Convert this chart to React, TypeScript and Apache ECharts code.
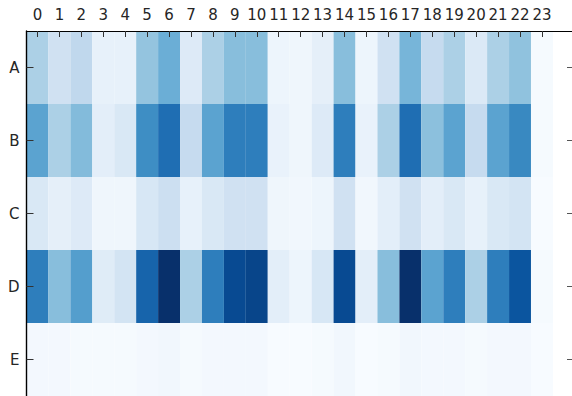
import React, { useEffect, useRef } from "react";
import * as echarts from "echarts";

const hours: number[] = Array.from({ length: 24 }, (_, i) => i);
const rowLabels: string[] = ["A", "B", "C", "D", "E"];

const rowA: number[] = [0.33, 0.2, 0.27, 0.08, 0.08, 0.4, 0.5, 0.13, 0.33, 0.43, 0.43, 0.05, 0.04, 0.09, 0.43, 0.05, 0.2, 0.47, 0.25, 0.33, 0.14, 0.33, 0.41, 0.01];
const rowB: number[] = [0.55, 0.33, 0.44, 0.1, 0.15, 0.64, 0.76, 0.25, 0.55, 0.7, 0.7, 0.07, 0.04, 0.13, 0.7, 0.07, 0.33, 0.76, 0.42, 0.55, 0.25, 0.55, 0.66, 0.01];
const rowC: number[] = [0.15, 0.09, 0.13, 0.04, 0.04, 0.16, 0.22, 0.08, 0.15, 0.2, 0.2, 0.04, 0.03, 0.05, 0.2, 0.03, 0.1, 0.2, 0.1, 0.15, 0.08, 0.15, 0.18, 0.0];
const rowD: number[] = [0.7, 0.43, 0.57, 0.12, 0.18, 0.8, 1.0, 0.33, 0.7, 0.9, 0.92, 0.1, 0.05, 0.16, 0.9, 0.1, 0.43, 1.0, 0.55, 0.7, 0.33, 0.7, 0.86, 0.01];
const rowE: number[] = [0.02, 0.02, 0.01, 0.01, 0.01, 0.02, 0.03, 0.01, 0.02, 0.02, 0.02, 0.0, 0.0, 0.01, 0.03, 0.0, 0.01, 0.03, 0.02, 0.02, 0.01, 0.02, 0.02, 0.0];

const rows: number[][] = [rowA, rowB, rowC, rowD, rowE];

const blues = ["#f7fbff", "#deebf7", "#c6dbef", "#9ecae1", "#6baed6", "#4292c6", "#2171b5", "#08519c", "#08306b"];

export default function App() {
  const ref = useRef<HTMLDivElement>(null);
  useEffect(() => {
    if (!ref.current) return;
    const chart = echarts.init(ref.current, null, { renderer: "svg" });
    const data: number[][] = [];
    rows.forEach((r, ri) => r.forEach((v, ci) => data.push([hours[ci], ri, v])));
    const font = "DejaVu Sans";
    const rowIdx = rowLabels.map((_, i) => i);
    chart.setOption({
      animation: false,
      backgroundColor: "#ffffff",
      grid: { left: 26.5, top: 31, right: 0, bottom: 0 },
      visualMap: {
        show: false,
        type: "continuous",
        min: 0,
        max: 1,
        dimension: 2,
        seriesIndex: 0,
        inRange: { color: blues },
      },
      xAxis: {
        type: "value",
        position: "top",
        z: 10,
        min: -0.5,
        max: 24.37,
        splitLine: { show: false },
        axisLine: { show: true, onZero: false, lineStyle: { color: "#000", width: 1.2 } },
        axisTick: { show: true, inside: true, length: 6, customValues: hours, lineStyle: { color: "#333" } },
        axisLabel: {
          customValues: hours,
          margin: 9,
          fontFamily: font,
          fontSize: 15,
          color: "#262626",
          formatter: (v: number) => String(v),
        },
      },
      yAxis: [
        {
          type: "value",
          inverse: true,
          z: 10,
          min: -0.5,
          max: 4.5,
          splitLine: { show: false },
          axisLine: { show: true, onZero: false, lineStyle: { color: "#000", width: 1.4 } },
          axisTick: { show: true, inside: true, length: 7, customValues: rowIdx, lineStyle: { color: "#333" } },
          axisLabel: {
            customValues: rowIdx,
            margin: 7,
            fontFamily: font,
            fontSize: 15,
            color: "#262626",
            formatter: (v: number) => rowLabels[Math.round(v)] ?? "",
          },
        },
        {
          type: "value",
          position: "right",
          inverse: true,
          z: 10,
          min: -0.5,
          max: 4.5,
          splitLine: { show: false },
          axisLine: { show: false, onZero: false },
          axisTick: { show: true, inside: true, length: 5, customValues: rowIdx, lineStyle: { color: "#555" } },
          axisLabel: { show: false },
        },
      ],
      series: [
        {
          type: "custom",
          xAxisIndex: 0,
          yAxisIndex: 0,
          data,
          encode: { x: 0, y: 1 },
          z: 1,
          renderItem: (params: any, api: any) => {
            const c = api.value(0);
            const r = api.value(1);
            const p0 = api.coord([c - 0.5, r - 0.5]);
            const p1 = api.coord([c + 0.5, r + 0.5]);
            return {
              type: "rect",
              shape: {
                x: Math.min(p0[0], p1[0]),
                y: Math.min(p0[1], p1[1]),
                width: Math.abs(p1[0] - p0[0]),
                height: Math.abs(p1[1] - p0[1]),
              },
              style: { fill: api.visual("color"), stroke: null },
            };
          },
        },
      ],
    });
    return () => chart.dispose();
  }, []);
  return (
    <div
      ref={ref}
      style={{ position: "fixed", left: 0, top: 0, width: 572, height: 396 }}
    />
  );
}
